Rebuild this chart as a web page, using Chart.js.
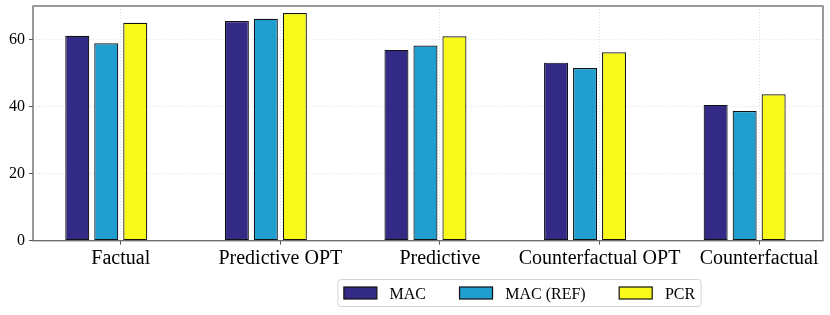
<!DOCTYPE html>
<html><head><meta charset="utf-8">
<script src="https://cdn.jsdelivr.net/npm/chart.js@4"></script>
<style>html,body{margin:0;padding:0;background:#fff}#wrap{width:830px;height:315px}</style>
</head><body><div id="wrap"><canvas id="c" width="830" height="315"></canvas></div>
<script>
const categories = ['Factual', 'Predictive OPT', 'Predictive', 'Counterfactual OPT', 'Counterfactual'];
const seriesNames = ['MAC', 'MAC (REF)', 'PCR'];
const macValues = [61.1, 65.5, 56.9, 53.1, 40.5];
const macRefValues = [58.9, 66.2, 58.2, 51.5, 38.7];
const pcrValues = [65.0, 67.9, 61.0, 56.2, 43.7];
const yTicks = [0, 20, 40, 60];
const yMax = 70;

const colors = ['#332a85', '#1f9ecf', '#f8f91a'];
const FONT = '"Liberation Serif", "Times New Roman", serif';
const catPct = 0.545, barPct = 0.828;
const tickShift = catPct / seriesNames.length / 2;

const seriesValues = [macValues, macRefValues, pcrValues];
const datasets = seriesNames.map((n, k) => ({
  label: n,
  data: seriesValues[k].map((v, i) => ({x: i, y: v})),
  backgroundColor: colors[k],
  borderColor: '#111',
  borderWidth: 1.2,
  borderSkipped: false,
  categoryPercentage: catPct,
  barPercentage: barPct
}));

const framePlugin = {
  id: 'frame',
  afterDatasetsDraw(chart) {
    const {ctx, chartArea: a} = chart;
    ctx.save();
    ctx.strokeStyle = '#666';
    ctx.lineWidth = 1.3;
    ctx.strokeRect(a.left, a.top, a.right - a.left, a.bottom - a.top);
    ctx.restore();
  }
};

const legendPlugin = {
  id: 'mplLegend',
  afterDraw(chart) {
    const ctx = chart.ctx;
    const L = {cx: 519.5, top: 279.5, height: 27, hw: 33, hh: 12, tp: 12.7, cs: 33.5, px: 6};
    ctx.save();
    ctx.font = '16px ' + FONT;
    const ds = chart.data.datasets;
    const widths = ds.map(d => ctx.measureText(d.label).width);
    let total = L.px * 2 + L.cs * (ds.length - 1);
    widths.forEach(w => total += L.hw + L.tp + w);
    const x0 = L.cx - total / 2;
    ctx.beginPath();
    ctx.roundRect(x0, L.top, total, L.height, 3);
    ctx.fillStyle = '#fff';
    ctx.fill();
    ctx.strokeStyle = '#d4d4d4';
    ctx.lineWidth = 1;
    ctx.stroke();
    let x = x0 + L.px;
    const sy = L.top + (L.height - L.hh) / 2;
    ds.forEach((d, k) => {
      ctx.fillStyle = d.backgroundColor;
      ctx.fillRect(x, sy, L.hw, L.hh);
      ctx.strokeStyle = '#111';
      ctx.lineWidth = 1.2;
      ctx.strokeRect(x, sy, L.hw, L.hh);
      ctx.fillStyle = '#000';
      ctx.textBaseline = 'alphabetic';
      ctx.fillText(d.label, x + L.hw + L.tp, sy + L.hh);
      x += L.hw + L.tp + widths[k] + L.cs;
    });
    ctx.restore();
  }
};

new Chart(document.getElementById('c'), {
  type: 'bar',
  data: {datasets},
  plugins: [framePlugin, legendPlugin],
  options: {
    responsive: false,
    devicePixelRatio: 1,
    animation: false,
    layout: {padding: {left: 0, right: 7, top: 6, bottom: 44.3}},
    plugins: {legend: {display: false}, tooltip: {enabled: false}},
    scales: {
      x: {
        type: 'linear',
        offset: false,
        min: -0.459,
        max: 4.491,
        afterFit: s => { s.height = 30; s.paddingLeft = 0; s.paddingRight = 0; },
        afterBuildTicks: s => { s.ticks = categories.map((_, i) => ({value: i + tickShift})); },
        ticks: {
          autoSkip: false, maxRotation: 0, minRotation: 0, padding: 2,
          color: '#000', font: {family: FONT, size: 20},
          callback: (v, i) => categories[i]
        },
        grid: {offset: false, color: '#d9d9d9', lineWidth: 0.8, tickColor: '#555', tickLength: 4, tickWidth: 1},
        border: {display: false, dash: [1, 2]}
      },
      y: {
        min: 0,
        max: yMax,
        afterFit: s => { s.width = 33; s.paddingTop = 0; s.paddingBottom = 0; },
        afterBuildTicks: s => { s.ticks = yTicks.map(v => ({value: v})); },
        ticks: {padding: 4, color: '#000', font: {family: FONT, size: 16}},
        grid: {color: '#d9d9d9', lineWidth: 0.8, tickColor: '#555', tickLength: 4, tickWidth: 1},
        border: {display: false, dash: [1, 2]}
      }
    }
  }
});
</script>
</body></html>
